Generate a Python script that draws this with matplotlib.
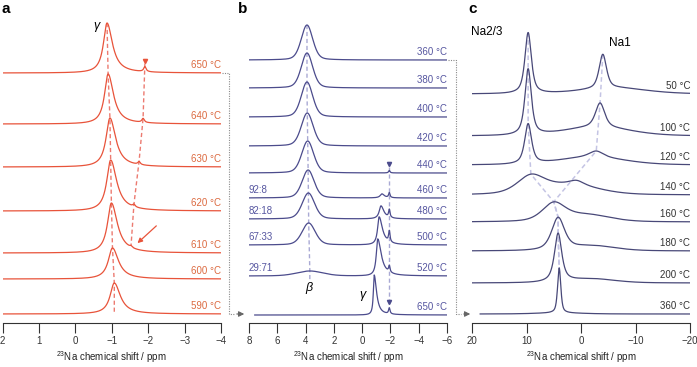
import numpy as np
import matplotlib.pyplot as plt

plt.rcParams['font.family'] = ['Liberation Sans', 'DejaVu Sans']
plt.rcParams['mathtext.default'] = 'regular'

W, H = 697, 367
AXIS_Y = 323  # pixel row of the three x axes

# ---- panel a: 650 -> 590 C, gamma phase + small side peak
a_temps = [650, 640, 630, 620, 610, 600, 590]
a_base = [250, 199, 156, 112, 70, 44, 9]
a_gamma_pos = [-0.87, -0.90, -0.95, -0.97, -0.99, -1.02, -1.07]
a_gamma_h = [50, 50, 49, 51, 50, 31, 31]
a_gamma_wl = [0.12, 0.12, 0.13, 0.13, 0.13, 0.14, 0.14]
a_gamma_wr = [0.18, 0.18, 0.19, 0.2, 0.2, 0.2, 0.2]
a_side_pos = [-1.91, -1.86, -1.75, -1.61, -1.53, -1.5, -1.5]
a_side_h = [5, 4, 3, 2.5, 1.5, 0, 0]

# ---- panel b: 360 -> 520 C plus 650 C
b_temps = [360, 380, 400, 420, 440, 460, 480, 500, 520, 650]
b_base = [263, 235, 206, 177, 150, 125, 104, 78, 47, 8]
b_ratio = ['', '', '', '', '', '92:8', '82:18', '67:33', '29:71', '']
b_beta_pos = [3.9, 3.9, 3.9, 3.88, 3.85, 3.82, 3.8, 3.78, 3.7, 3.7]
b_beta_h = [35, 35, 35, 33, 32, 28, 26, 22, 5, 0]
b_beta_w = [0.48, 0.48, 0.48, 0.5, 0.5, 0.5, 0.52, 0.55, 1.1, 0.5]
b_gamma_pos = [-1.0, -1.0, -1.0, -1.0, -1.0, -1.4, -1.33, -1.2, -1.1, -0.85]
b_gamma_h = [0, 0, 0, 0, 0, 4, 13, 28, 37, 40]
b_gamma_wl = [0.15, 0.15, 0.15, 0.15, 0.15, 0.15, 0.15, 0.13, 0.12, 0.07]
b_gamma_wr = [0.2, 0.2, 0.2, 0.2, 0.2, 0.2, 0.25, 0.28, 0.3, 0.2]
b_side_pos = -1.92
b_side_h = [0, 0, 0, 0, 2.5, 5, 8, 11, 6.5, 6]

# ---- panel c: 50 -> 360 C
c_temps = [50, 100, 120, 140, 160, 180, 200, 360]
c_base = [229, 187, 158, 128, 101, 72, 40, 9]
c_p1_pos = [9.7, 9.7, 9.7, 9.2, 5.0, 4.2, 4.2, 4.0]
c_p1_h = [61, 66, 40, 17, 17.5, 32, 48.5, 45]
c_p1_w = [0.7, 0.7, 0.75, 3.0, 2.5, 1.4, 0.8, 0.35]
c_p1_eta = [0.7, 0.7, 0.7, 0.5, 0.5, 0.6, 0.75, 0.6]
c_p2_pos = [-4.0, -3.5, -2.8, 0.8, 0, 0, 0, 0]
c_p2_h = [34, 24, 6, 4, 0, 0, 0, 0]
c_p2_w = [0.8, 1.0, 1.5, 1.5, 1, 1, 1, 1]
c_bg_pos = [-6, -3, -2, 2, -1, -2, -2, 4]
c_bg_h = [6, 9, 8, 10, 7, 5, 4, 1]
c_bg_w = [7, 7, 7, 6, 5, 5, 5, 5]

RED, RED_TXT, RED_DASH = '#e8533a', '#dc6a40', '#ec7a70'
BLUE, BLUE_TXT, BLUE_DASH = '#4b4b8c', '#5656a0', '#a9a9d4'
NAVY, C_TXT, C_DASH = '#484878', '#333333', '#c4c4e4'
GRAY = '#8a8a8a'


def peak(x, pos, h, wl, wr=None, eta=1.0):
    wr = wl if wr is None else wr
    w = np.where(x < pos, wr, wl)
    d = (x - pos) / w
    return h * (eta / (1 + d ** 2) + (1 - eta) * np.exp(-np.log(2) * d ** 2))


fig = plt.figure(figsize=(W / 100, H / 100), dpi=100)


def panel(left, right, xlim, ticks):
    ax = fig.add_axes([left / W, (H - AXIS_Y) / H, (right - left) / W, AXIS_Y / H])
    ax.set_xlim(*xlim)
    ax.set_ylim(0, AXIS_Y)
    ax.patch.set_alpha(0)
    for s in ('top', 'left', 'right'):
        ax.spines[s].set_visible(False)
    ax.spines['bottom'].set_color('#333333')
    ax.spines['bottom'].set_linewidth(0.8)
    ax.set_yticks([])
    ax.set_xticks(ticks)
    ax.tick_params(axis='x', direction='out', length=7, width=0.8,
                   labelsize=7, pad=2.5, colors='#333333')
    ax.set_xlabel(r'$^{23}$Na chemical shift / ppm', fontsize=7, labelpad=2.5,
                  color='#222222')
    return ax


# ---------------- a
ax = panel(2.5, 221, (2, -4), [2, 1, 0, -1, -2, -3, -4])
xa = np.linspace(2, -4, 2000)
tops, side_y = [], []
for i, t in enumerate(a_temps):
    y = a_base[i] + peak(xa, a_gamma_pos[i], a_gamma_h[i], a_gamma_wl[i], a_gamma_wr[i]) \
        + peak(xa, a_side_pos[i], a_side_h[i], 0.04)
    ax.plot(xa, y, color=RED, lw=0.9, zorder=3)
    tops.append(y.max())
    side_y.append(np.interp(-a_side_pos[i], -xa, y))
    ax.text(-4, a_base[i] + 3, f'{t} °C', ha='right', va='bottom', fontsize=7, color=RED_TXT)
ax.plot(a_gamma_pos + [a_gamma_pos[-1]], tops + [a_base[-1]], color=RED_DASH,
        lw=1.0, dashes=(3, 2), zorder=2)
ax.plot(a_side_pos[:5], [side_y[0] + 3] + side_y[1:5], color=RED_DASH, lw=1.0,
        dashes=(3, 2), zorder=2)
ax.plot(a_side_pos[0], side_y[0] + 6, marker='v', ms=3, color=RED, zorder=4)
ax.annotate('', xy=(a_side_pos[4] - 0.12, a_base[4] + 8),
            xytext=(a_side_pos[4] - 0.75, a_base[4] + 29),
            arrowprops=dict(arrowstyle='-|>', color=RED, lw=0.9, mutation_scale=7))
ax.text(-0.57, 297, 'γ', fontsize=9, style='italic', ha='center', va='center')

# ---------------- b
ax = panel(249, 447, (8, -6), [8, 6, 4, 2, 0, -2, -4, -6])
xb = np.linspace(8, -6, 2000)
beta_tops, bside = [], []
for i, t in enumerate(b_temps):
    x = xb if i < len(b_temps) - 1 else xb[xb <= 7.6]
    y = b_base[i] + peak(x, b_beta_pos[i], b_beta_h[i], b_beta_w[i], eta=0.3) \
        + peak(x, b_gamma_pos[i], b_gamma_h[i], b_gamma_wl[i], b_gamma_wr[i]) \
        + peak(x, b_side_pos, b_side_h[i], 0.06)
    ax.plot(x, y, color=BLUE, lw=0.9, zorder=3)
    beta_tops.append(np.interp(-b_beta_pos[i], -x, y))
    bside.append(np.interp(-b_side_pos, -x, y))
    ax.text(-6, b_base[i] + 3, f'{t} °C', ha='right', va='bottom', fontsize=7, color=BLUE_TXT)
    if b_ratio[i]:
        ax.text(8, b_base[i] + 3, b_ratio[i], ha='left', va='bottom', fontsize=7, color=BLUE_TXT)
ax.plot(b_beta_pos[:9] + [b_beta_pos[8]], beta_tops[:9] + [b_base[8] - 4],
        color=BLUE_DASH, lw=1.0, dashes=(3, 2), zorder=2)
ax.plot([b_side_pos, b_side_pos], [bside[4] + 3, bside[-1] + 3],
        color=BLUE_DASH, lw=1.0, dashes=(3, 2), zorder=2)
for k in (4, len(b_temps) - 1):
    ax.plot(b_side_pos, bside[k] + 6, marker='v', ms=3, color=BLUE, zorder=4)
ax.text(3.76, 35, 'β', fontsize=9, style='italic', ha='center', va='center')
ax.text(0.0, 28, 'γ', fontsize=9, style='italic', ha='center', va='center')

# ---------------- c
ax = panel(472, 690, (20, -20), [20, 10, 0, -10, -20])
xc = np.linspace(20, -20, 2000)
c_tops, c_na1 = [], []
for i, t in enumerate(c_temps):
    x = xc if i < len(c_temps) - 1 else xc[xc <= 18.5]
    y = c_base[i] + peak(x, c_p1_pos[i], c_p1_h[i], c_p1_w[i], eta=c_p1_eta[i]) \
        + peak(x, c_p2_pos[i], c_p2_h[i], c_p2_w[i], eta=0.6) \
        + peak(x, c_bg_pos[i], c_bg_h[i], c_bg_w[i], eta=0.3)
    ax.plot(x, y, color=NAVY, lw=0.9, zorder=3)
    c_tops.append(np.interp(-c_p1_pos[i], -x, y))
    c_na1.append(np.interp(-c_p2_pos[i], -x, y))
    ax.text(-20, c_base[i] + 3, f'{t} °C', ha='right', va='bottom', fontsize=7, color=C_TXT)
ax.plot(c_p1_pos, c_tops, color=C_DASH, lw=1.1, dashes=(3, 2), zorder=2)
ax.plot(c_p2_pos[:3] + c_p1_pos[4:], c_na1[:3] + c_tops[4:], color=C_DASH, lw=1.1,
        dashes=(3, 2), zorder=2)
ax.text(17.25, 291, 'Na2/3', fontsize=8.5, ha='center', va='center')
ax.text(-7.1, 280, 'Na1', fontsize=8.5, ha='center', va='center')

# ---------------- overlay: panel letters and connectors
ov = fig.add_axes([0, 0, 1, 1])
ov.set_xlim(0, W)
ov.set_ylim(H, 0)
ov.axis('off')
ov.patch.set_alpha(0)
for x, s in ((6, 'a'), (243, 'b'), (473, 'c')):
    ov.text(x, 9, s, fontsize=11, fontweight='bold', ha='center', va='center')

for x0, xv, x1, ytop in ((222, 229, 247, AXIS_Y - a_base[0]),
                          (448, 456, 473, AXIS_Y - b_base[0])):
    ybot = AXIS_Y - 9
    ov.plot([x0, xv, xv, xv + 5], [ytop, ytop, ybot, ybot], color=GRAY, lw=0.8,
            linestyle=(0, (1, 1.2)))
    ov.annotate('', xy=(x1, ybot), xytext=(xv + 5, ybot),
                arrowprops=dict(arrowstyle='-|>', color='#666666', lw=0.8,
                                mutation_scale=8))

fig.savefig('out.png', dpi=100)
